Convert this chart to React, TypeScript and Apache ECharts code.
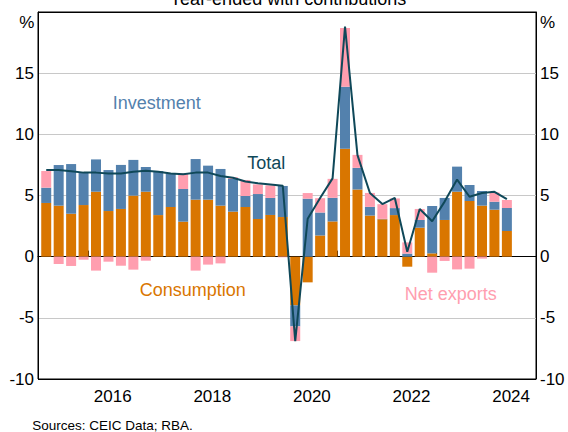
import React, { useEffect, useRef } from "react";
import * as echarts from "echarts";

// ---- Data (year-ended growth, ppt contributions), 2015 Q1 – 2024 Q2 ----
const startYear = 2015;
const yearLabels = ["2015", "2016", "2017", "2018", "2019", "2020", "2021", "2022", "2023", "2024"];
const quarterNames = ["Q1", "Q2", "Q3", "Q4"];

const consumption = [
  4.39, 4.17, 3.51, 4.22,
  5.31, 3.73, 3.9, 4.99,
  5.31, 3.4, 4.06, 2.86,
  4.66, 4.66, 4.17, 3.68,
  4.06, 3.08, 3.41, 3.24,
  -3.98, -2.1, 1.73, 2.88,
  8.82, 5.49, 3.36, 3.06,
  3.4, -0.82, 2.37, 0.27,
  3.0, 5.31, 4.55, 4.17,
  3.84, 2.1,
];

const investment = [
  1.25, 3.32, 4.06, 2.64,
  2.64, 3.35, 3.6, 2.92,
  2.02, 3.6, 2.75, 2.67,
  3.32, 2.78, 3.0, 2.67,
  0.9, 2.04, 1.39, 2.54,
  -1.72, 4.74, 1.88, 1.93,
  5.07, 1.77, 0.71, 0.03,
  0.57, 0.25, 0.63, 3.87,
  1.8, 2.05, 1.31, 1.2,
  0.65, 1.88,
];

const netExports = [
  1.36, -0.6, -0.76, -0.25,
  -1.14, -0.41, -0.74, -1.06,
  -0.33, 0.0, 0.0, 1.28,
  -1.14, -0.65, -0.55, 0.14,
  1.31, 0.79, 1.03, -0.05,
  -1.2, 0.46, 1.17, 1.55,
  4.8, 1.06, 1.14, 1.2,
  0.79, 0.92, 0.9, -1.31,
  -0.35, -1.04, -0.98, -0.16,
  0.76, 0.65,
];

const total = [
  7.08, 7.08, 6.98, 6.87,
  6.87, 6.8, 6.8, 6.95,
  7.03, 6.95, 6.8, 6.73,
  6.87, 6.87, 6.6, 6.45,
  6.15, 6.0, 5.9, 5.8,
  -6.9, 3.1, 4.8, 6.4,
  18.8, 8.3, 5.2, 4.3,
  4.8, 0.4, 3.9, 2.9,
  4.5, 6.3, 4.9, 5.2,
  5.3, 4.7,
];

const yMin = -10;
const yMax = 20;
const yStep = 5;

const FONT = "'Liberation Sans', Arial, Helvetica, sans-serif";
const ORANGE = "#D97600";
const BLUE = "#5381AD";
const PINK = "#FF9EAF";
const LINE = "#0F4859";

const quarterCategories: string[] = [];
yearLabels.forEach((y) => quarterNames.forEach((q) => quarterCategories.push(`${y} ${q}`)));

export default function App() {
  const ref = useRef<HTMLDivElement>(null);

  useEffect(() => {
    if (!ref.current) return;
    const chart = echarts.init(ref.current, undefined, { renderer: "svg" });

    const yLabel = {
      fontSize: 17,
      color: "#000",
      fontFamily: FONT,
      margin: 4,
      formatter: (v: number) => (v === yMax ? "" : String(v)),
    };

    const barBase = {
      type: "bar" as const,
      stack: "contrib",
      barWidth: 10,
      xAxisIndex: 2,
      yAxisIndex: 2,
    };

    const textStyle = (fill: string, fontSize: number, align: string) => ({
      fill,
      fontSize,
      fontFamily: FONT,
      align,
      verticalAlign: "middle",
    });

    chart.setOption({
      animation: false,
      backgroundColor: "#ffffff",
      textStyle: { fontFamily: FONT },
      grid: [
        {
          left: 38,
          right: 32,
          top: 12,
          bottom: 53,
          show: true,
          borderColor: "#000",
          borderWidth: 1,
          backgroundColor: "transparent",
        },
        // data grid: quarters plotted at the end of each quarter's middle month
        { left: 40, right: 30, top: 12, bottom: 53 },
      ],
      xAxis: [
        {
          gridIndex: 0,
          type: "value",
          min: startYear,
          max: startYear + yearLabels.length,
          interval: 1,
          position: "bottom",
          axisLine: { show: true, lineStyle: { color: "#000", width: 1 } },
          axisTick: { show: true, inside: true, length: 6, lineStyle: { color: "#000", width: 1 } },
          axisLabel: { show: false },
          splitLine: { show: false },
        },
        {
          gridIndex: 0,
          type: "category",
          data: yearLabels,
          position: "bottom",
          boundaryGap: true,
          axisLine: { show: false },
          axisTick: { show: false },
          splitLine: { show: false },
          axisLabel: {
            interval: (i: number) => i % 2 === 1,
            fontSize: 17,
            color: "#000",
            fontFamily: FONT,
            margin: 9,
          },
        },
        {
          gridIndex: 1,
          type: "category",
          data: quarterCategories,
          boundaryGap: true,
          show: false,
        },
      ],
      yAxis: [
        {
          gridIndex: 0,
          type: "value",
          min: yMin,
          max: yMax,
          interval: yStep,
          position: "left",
          axisLine: { show: true, lineStyle: { color: "#000", width: 1 } },
          axisTick: { show: false },
          axisLabel: yLabel,
          splitLine: {
            show: true,
            lineStyle: {
              color: ["#000", "#C8C8C8", "#6E6E6E", "#C8C8C8", "#C8C8C8", "#C8C8C8", "#000"],
              width: 1,
            },
          },
        },
        {
          gridIndex: 0,
          type: "value",
          min: yMin,
          max: yMax,
          interval: yStep,
          position: "right",
          axisLine: { show: true, lineStyle: { color: "#000", width: 1 } },
          axisTick: { show: false },
          axisLabel: yLabel,
          splitLine: { show: false },
        },
        {
          gridIndex: 1,
          type: "value",
          min: yMin,
          max: yMax,
          interval: yStep,
          show: false,
          splitLine: { show: false },
        },
      ],
      series: [
        { ...barBase, name: "Consumption", data: consumption, itemStyle: { color: ORANGE } },
        { ...barBase, name: "Investment", data: investment, itemStyle: { color: BLUE } },
        { ...barBase, name: "Net exports", data: netExports, itemStyle: { color: PINK } },
        {
          type: "line",
          name: "Total",
          xAxisIndex: 2,
          yAxisIndex: 2,
          data: total,
          symbol: "none",
          z: 5,
          lineStyle: { color: LINE, width: 2 },
        },
      ],
      graphic: [
        { type: "text", x: 288, y: -1.3, style: { text: "Year-ended with contributions", ...textStyle("#000", 18, "center") } },
        { type: "text", x: 34.3, y: 22.3, style: { text: "%", ...textStyle("#000", 17, "right") } },
        { type: "text", x: 540, y: 22.3, style: { text: "%", ...textStyle("#000", 17, "left") } },
        { type: "text", x: 156.7, y: 103.3, style: { text: "Investment", ...textStyle(BLUE, 18, "center") } },
        { type: "text", x: 266.2, y: 163, style: { text: "Total", ...textStyle(LINE, 18, "center") } },
        { type: "text", x: 192.8, y: 290.3, style: { text: "Consumption", ...textStyle(ORANGE, 18, "center") } },
        { type: "text", x: 450.7, y: 294.2, style: { text: "Net exports", ...textStyle(PINK, 18, "center") } },
        { type: "text", x: 32.3, y: 425.5, style: { text: "Sources: CEIC Data; RBA.", ...textStyle("#000", 13.5, "left") } },
      ],
    });

    return () => {
      chart.dispose();
    };
  }, []);

  return (
    <div
      ref={ref}
      style={{ position: "fixed", left: 0, top: 0, width: 568, height: 432, background: "#fff" }}
    />
  );
}
